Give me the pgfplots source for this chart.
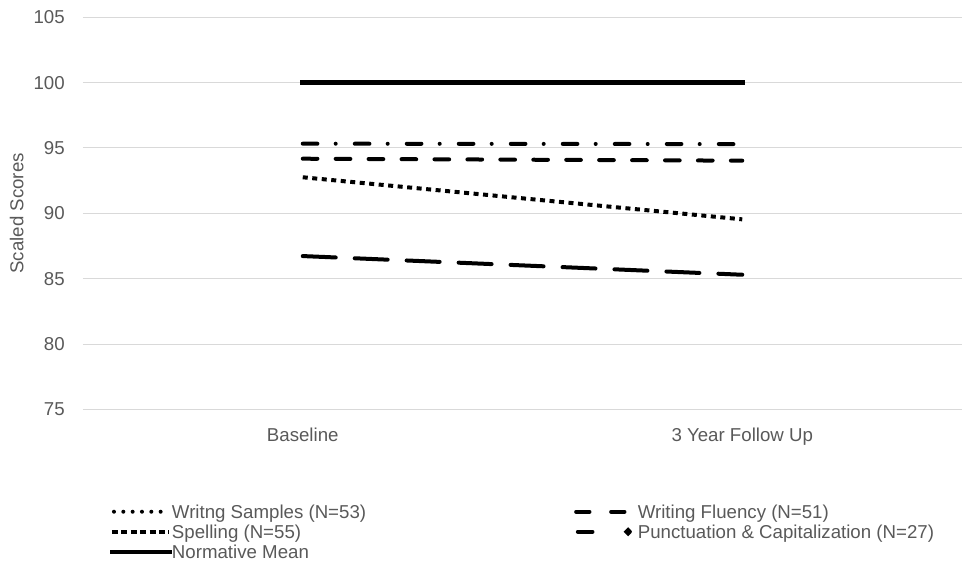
\documentclass[border=0pt]{standalone}
\usepackage{pgfplots}
\pgfplotsset{compat=1.18}
\usepackage{fontspec}
\setmainfont{Liberation Sans}
\definecolor{txt}{HTML}{595959}
\definecolor{gridc}{HTML}{D9D9D9}
\newcommand{\fs}{\fontsize{14}{16.8}\selectfont}
\begin{document}
\begin{tikzpicture}
\begin{axis}[
  scale only axis, width=659.25pt, height=294pt,
  xmin=-0.5, xmax=1.5, ymin=75, ymax=105,
  xtick={0,1}, xticklabels={Baseline,3 Year Follow Up},
  ytick={75,80,85,90,95,100,105},
  axis line style={draw=none},
  major tick length=0pt,
  ymajorgrids, grid style={gridc, line width=0.75pt},
  /pgf/number format/assume math mode=true,
  tick label style={font=\fs, text=txt, inner sep=0pt},
  yticklabel style={anchor=east, xshift=-13.5pt},
  xticklabel style={anchor=base, yshift=-24.3pt},
  ylabel={Scaled Scores},
  every axis y label/.style={at={(axis description cs:-0.0754,0.5)}, rotate=90, anchor=center, font=\fs, text=txt},
  clip=false,
  legend columns=2,
  legend style={at={(axis description cs:0.0307,-0.2357)}, anchor=north west, draw=none, fill=none,
    inner sep=0pt, outer sep=0pt, font=\fs, text=txt, row sep=0pt,
    nodes={inner sep=0pt, text height=12.5pt, text depth=2.5pt},
    /tikz/column 1/.style={column sep=0pt},
    /tikz/column 2/.style={column sep=154.5pt},
    /tikz/column 3/.style={column sep=3.75pt}},
  legend cell align=left,
]
% Writng Samples
\addplot[black, line width=3pt, line cap=round, dash pattern=on 24.75pt off 14.25pt,
  legend image code/.code={\path (0pt,0pt) (43.5pt,0pt);
    \draw[black, line width=3pt, line cap=round, dash pattern=on 0pt off 7pt] (1.5pt,0pt) -- (37pt,0pt);}]
  coordinates {(0,86.73) (1,85.30)};
\addlegendentry{Writng Samples (N=53)}
% Writing Fluency
\addplot[black, line width=3pt, line cap=round, dash pattern=on 11pt off 13.7pt,
  legend image code/.code={\path (0pt,0pt) (42.5pt,0pt);
    \draw[black, line width=3pt, line cap=round, dash pattern=on 10pt off 16.25pt] (1.5pt,0pt) -- (38.5pt,0pt);}]
  coordinates {(0,94.18) (1,94.03)};
\addlegendentry{Writing Fluency (N=51)}
% Spelling
\addplot[black, line width=3pt, line cap=butt, dash pattern=on 3.75pt off 3.4pt,
  legend image code/.code={\path (0pt,0pt) (43.5pt,0pt);
    \draw[black, line width=3pt, line cap=butt, dash pattern=on 4.5pt off 2.55pt] (0pt,0pt) -- (42.5pt,0pt);}]
  coordinates {(0,92.76) (1,89.54)};
\addlegendentry{Spelling (N=55)}
% Punctuation & Capitalization
\addplot[black, line width=3pt, line cap=round, dash pattern=on 11pt off 13.7pt on 0pt off 14.3pt,
  legend image code/.code={\path (0pt,0pt) (42.5pt,0pt);
    \draw[black, line width=3pt, line cap=round] (2.75pt,0pt) -- (27.2pt,0pt);
    \fill[black] (40.5pt,0pt) circle (1.3pt);}]
  coordinates {(0,95.33) (1,95.30)};
\addlegendentry{Punctuation \& Capitalization (N=27)}
% Normative Mean
\addplot[black, line width=3.75pt, line cap=rect,
  legend image code/.code={\draw[black, line width=3pt] (0pt,0pt) -- (43.5pt,0pt);}]
  coordinates {(0,100) (1,100)};
\addlegendentry{Normative Mean}
\end{axis}
\pgfresetboundingbox
\path[use as bounding box] (-62.25pt,307pt) rectangle (659.25pt,-118.3pt);
\end{tikzpicture}
\end{document}
